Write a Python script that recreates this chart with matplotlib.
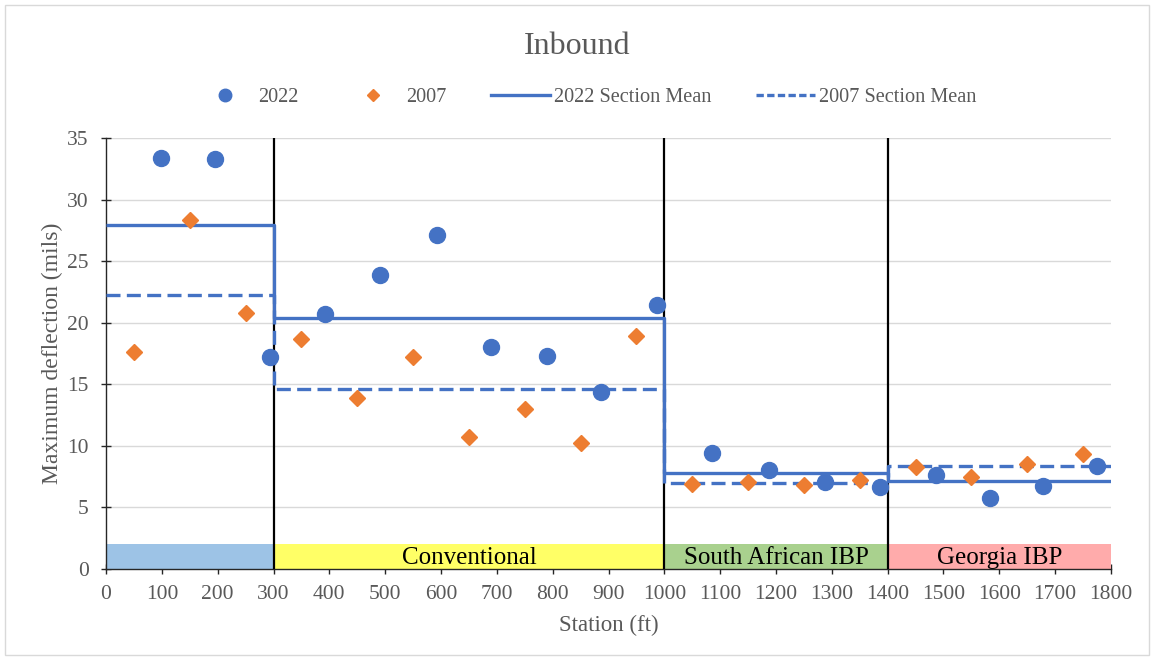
import numpy as np
import matplotlib.pyplot as plt
from matplotlib.patches import Rectangle
from matplotlib.lines import Line2D

plt.rcParams['font.family'] = ['Liberation Serif', 'DejaVu Serif']

# Maximum deflection readings (mils) by station (ft)
station_2022 = [98, 196, 294, 393, 491, 592, 689, 790, 886, 986,
                1085, 1188, 1287, 1386, 1486, 1583, 1678, 1775]
defl_2022 = [33.4, 33.3, 17.2, 20.7, 23.9, 27.1, 18.0, 17.3, 14.4, 21.4,
             9.4, 8.0, 7.05, 6.65, 7.6, 5.8, 6.75, 8.4]

station_2007 = [50, 150, 250, 350, 450, 550, 650, 750, 850, 950,
                1050, 1150, 1250, 1350, 1450, 1550, 1650, 1750]
defl_2007 = [17.6, 28.35, 20.75, 18.7, 13.9, 17.2, 10.7, 13.0, 10.2, 18.9,
             6.9, 7.05, 6.8, 7.2, 8.25, 7.45, 8.5, 9.3]

# Pavement sections
section_edges = [0, 300, 1000, 1400, 1800]
section_names = ['', 'Conventional', 'South African IBP', 'Georgia IBP']
section_colors = ['#9dc3e6', '#ffff66', '#a9d18e', '#ffabab']

BLUE = '#4472c4'
ORANGE = '#ed7d31'
GRID = '#d9d9d9'
TEXT = '#595959'


def section_means(stations, values):
    st = np.asarray(stations)
    va = np.asarray(values)
    means = []
    for lo, hi in zip(section_edges[:-1], section_edges[1:]):
        mask = (st >= lo) & (st < hi)
        means.append(va[mask].mean())
    return means


def step_xy(means):
    xs, ys = [], []
    for i, m in enumerate(means):
        xs += [section_edges[i], section_edges[i + 1]]
        ys += [m, m]
    return xs, ys


fig = plt.figure(figsize=(11.54, 6.6), dpi=100)
ax = fig.add_axes([0.0919, 0.1379, 0.8708, 0.653])

ax.set_xlim(0, 1800)
ax.set_ylim(0, 35)
ax.set_xticks(np.arange(0, 1801, 100))
ax.set_yticks(np.arange(0, 36, 5))
ax.grid(axis='y', color=GRID, linewidth=1.0, zorder=0)
ax.set_axisbelow(True)

for side in ['top', 'right']:
    ax.spines[side].set_visible(False)
for side in ['left', 'bottom']:
    ax.spines[side].set_color('#262626')
    ax.spines[side].set_linewidth(1.0)
ax.tick_params(direction='inout', length=7, width=1, color='#262626',
               labelsize=15.5, labelcolor=TEXT)
ax.tick_params(axis='x', pad=8)
ax.tick_params(axis='y', pad=9)

# section bands along the bottom
for i, (lo, hi) in enumerate(zip(section_edges[:-1], section_edges[1:])):
    ax.add_patch(Rectangle((lo, 0), hi - lo, 2, facecolor=section_colors[i],
                           edgecolor='none', zorder=1))
    if section_names[i]:
        ax.text((lo + hi) / 2, 0.9, section_names[i], ha='center', va='center',
                fontsize=18, color='black', zorder=2)

# section boundaries
for edge in section_edges[1:-1]:
    ax.plot([edge, edge], [0, 35], color='black', linewidth=1.6, zorder=3)

# section means
m22 = section_means(station_2022, defl_2022)
m07 = section_means(station_2007, defl_2007)
x22, y22 = step_xy(m22)
x07, y07 = step_xy(m07)
ax.plot(x22, y22, color=BLUE, linewidth=2.4, zorder=4, solid_capstyle='butt')
ax.plot(x07, y07, color=BLUE, linewidth=2.4, zorder=4,
        dashes=(4.2, 1.9), dash_capstyle='butt')

# measured points
ax.plot(station_2022, defl_2022, linestyle='none', marker='o', markersize=11.5,
        color=BLUE, zorder=5)
ax.plot(station_2007, defl_2007, linestyle='none', marker='D', markersize=8.2,
        color=ORANGE, zorder=5)

ax.set_xlabel('Station (ft)', fontsize=16.5, color=TEXT, labelpad=8)
ax.set_ylabel('Maximum deflection (mils)', fontsize=17, color=TEXT, labelpad=3)

fig.text(0.5, 0.93, 'Inbound', ha='center', va='center', fontsize=23, color=TEXT)

handles = [
    Line2D([], [], linestyle='none', marker='o', markersize=9, color=BLUE),
    Line2D([], [], linestyle='none', marker='D', markersize=6.5, color=ORANGE),
    Line2D([], [], color=BLUE, linewidth=2.4),
    Line2D([], [], color=BLUE, linewidth=2.4, dashes=(2.2, 1.0)),
]
labels = ['2022', '2007', '2022 Section Mean', '2007 Section Mean']
leg = fig.legend(handles, labels, loc='center', bbox_to_anchor=(0.5075, 0.853),
                 ncol=4, frameon=False, fontsize=14.6, handlelength=2.9,
                 handletextpad=0.2, columnspacing=2.2)
for t in leg.get_texts():
    t.set_color(TEXT)

# outer chart border
fig.add_artist(Rectangle((0.004, 0.008), 0.992, 0.984, transform=fig.transFigure,
                         facecolor='none', edgecolor='#d9d9d9', linewidth=1.0))

fig.savefig('out.png', dpi=100)
